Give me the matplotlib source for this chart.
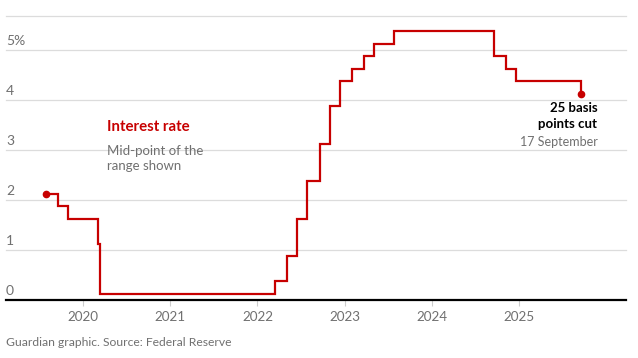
import matplotlib
matplotlib.use("Agg")
import matplotlib.pyplot as plt
import matplotlib.transforms as mtransforms
import pandas as pd

# Fed funds target range, mid-point (%)
dates = ["2019-07-31", "2019-09-18", "2019-10-30", "2020-03-03", "2020-03-15",
         "2022-03-16", "2022-05-04", "2022-06-15", "2022-07-27", "2022-09-21",
         "2022-11-02", "2022-12-14", "2023-02-01", "2023-03-22", "2023-05-03",
         "2023-07-26", "2024-09-18", "2024-11-07", "2024-12-18", "2025-09-17"]
rates = [2.125, 1.875, 1.625, 1.125, 0.125,
         0.375, 0.875, 1.625, 2.375, 3.125,
         3.875, 4.375, 4.625, 4.875, 5.125,
         5.375, 4.875, 4.625, 4.375, 4.125]
year_ticks = ["2020", "2021", "2022", "2023", "2024", "2025"]
y_ticks = [0, 1, 2, 3, 4, 5]
y_labels = ["0", "1", "2", "3", "4", "5%"]

RED = "#c70000"
GREY = "#707070"
plt.rcParams["font.family"] = ["Lato", "DejaVu Sans"]

x = pd.to_datetime(dates)

fig = plt.figure(figsize=(6.38, 3.58), dpi=100)
ax = fig.add_axes([6 / 638, 1 - 300 / 358, 620 / 638, 284 / 358])

ax.set_xlim(pd.Timestamp("2019-02-14"), pd.Timestamp("2026-03-23"))
ax.set_ylim(0, 5.68)

# gridlines
for v in y_ticks[1:] + [5.68]:
    ax.axhline(v, color="#dcdcdc", lw=0.9, zorder=1, clip_on=False)
ax.axhline(0, color="black", lw=1.6, zorder=3, clip_on=False)

trans = mtransforms.blended_transform_factory(ax.transAxes, ax.transData)
for v, lab in zip(y_ticks, y_labels):
    ax.text(0, v + 0.1, lab, transform=trans, ha="left", va="baseline",
            fontsize=10, color=GREY)

ax.plot(x, rates, drawstyle="steps-post", color=RED, lw=1.6, zorder=4,
        solid_joinstyle="miter")
ax.plot([x[0], x[-1]], [rates[0], rates[-1]], "o", color=RED, ms=4.5, zorder=5)

ax.set_xticks(pd.to_datetime([y + "-01-01" for y in year_ticks]))
ax.set_xticklabels(year_ticks)
ax.tick_params(axis="x", length=4, width=0.8, color="#cccccc", pad=4,
               labelsize=9.7, labelcolor=GREY)
ax.tick_params(axis="y", left=False, labelleft=False)
for s in ax.spines.values():
    s.set_visible(False)

ax.text(pd.Timestamp("2020-04-12"), 3.46, "Interest rate", color=RED,
        fontsize=10.8, fontweight="bold", ha="left", va="center")
ax.text(pd.Timestamp("2020-04-12"), 2.83, "Mid-point of the\nrange shown",
        color=GREY, fontsize=9.5, ha="left", va="center", linespacing=1.35)

ax.text(pd.Timestamp("2025-11-23"), 3.67, "25 basis\npoints cut", color="black",
        fontsize=9.5, fontweight="bold", ha="right", va="center",
        linespacing=1.4)
ax.text(pd.Timestamp("2025-11-27"), 3.16, "17 September", color=GREY,
        fontsize=9.0, ha="right", va="center")

fig.text(6 / 638, 1 - 343 / 358, "Guardian graphic. Source: Federal Reserve",
         color=GREY, fontsize=8.7, ha="left", va="center")

fig.savefig("out.png", dpi=100)
